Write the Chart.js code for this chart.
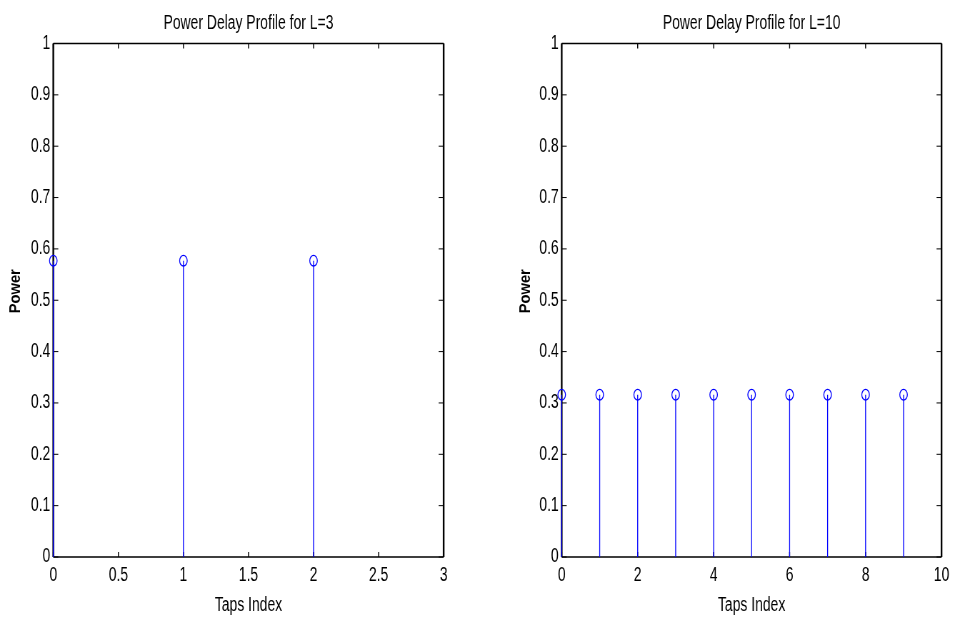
<!DOCTYPE html>
<html>
<head>
<meta charset="utf-8">
<script src="https://cdn.jsdelivr.net/npm/chart.js@4.4.1/dist/chart.umd.min.js"></script>
<style>
  html, body { margin: 0; padding: 0; background: #fff; }
  body { width: 954px; height: 621px; position: relative; overflow: hidden; }
  /* the picture is squeezed sideways: draw wide, then scale x down */
  .plot { position: absolute; top: 0; height: 621px; transform-origin: 0 0; transform: scaleX(0.7142857); }
</style>
</head>
<body>
<div class="plot" style="left:0;width:668px"><canvas id="pdpL3"></canvas></div>
<div class="plot" style="left:510px;width:622px"><canvas id="pdpL10"></canvas></div>
<script>
// Taps and powers
const tapsL3 = [0, 1, 2];
const powerL3 = [0.577, 0.577, 0.577];
const tapsL10 = [0, 1, 2, 3, 4, 5, 6, 7, 8, 9];
const powerL10 = [0.316, 0.316, 0.316, 0.316, 0.316, 0.316, 0.316, 0.316, 0.316, 0.316];

const titleL3 = 'Power Delay Profile for L=3';
const titleL10 = 'Power Delay Profile for L=10';
const xLabel = 'Taps Index';
const yLabel = 'Power';

const K = 1.4; // horizontal squeeze factor
const textFont = { family: "'Liberation Sans', Arial, sans-serif", size: 19.5 };

Chart.defaults.color = '#000';

// box round the axes with inward ticks on all four sides
const boxTicks = {
    id: 'boxTicks',
    beforeDatasetsDraw(chart) {
        const { ctx, chartArea: a, scales: { x, y } } = chart;
        ctx.save();
        ctx.strokeStyle = '#000';
        ctx.beginPath();
        ctx.lineWidth = 1.4;
        x.ticks.forEach(t => {
            const px = x.getPixelForValue(t.value);
            ctx.moveTo(px, a.bottom); ctx.lineTo(px, a.bottom - 5);
            ctx.moveTo(px, a.top); ctx.lineTo(px, a.top + 5);
        });
        ctx.stroke();
        ctx.beginPath();
        ctx.lineWidth = 1;
        y.ticks.forEach(t => {
            const py = y.getPixelForValue(t.value);
            ctx.moveTo(a.left, py); ctx.lineTo(a.left + 5 * K, py);
            ctx.moveTo(a.right, py); ctx.lineTo(a.right - 5 * K, py);
        });
        ctx.stroke();
        ctx.lineWidth = 1.6;
        ctx.beginPath();
        ctx.moveTo(a.left, a.top); ctx.lineTo(a.right, a.top);
        ctx.moveTo(a.left, a.bottom); ctx.lineTo(a.right, a.bottom);
        ctx.stroke();
        ctx.lineWidth = 2.4;
        ctx.beginPath();
        ctx.moveTo(a.left, a.top); ctx.lineTo(a.left, a.bottom);
        ctx.moveTo(a.right, a.top); ctx.lineTo(a.right, a.bottom);
        ctx.stroke();
        ctx.restore();
    }
};

// y label: rotated text is not squeezed the same way, so stretch it back
const yTitle = {
    id: 'yTitle',
    afterDraw(chart) {
        const { ctx, scales: { y } } = chart;
        ctx.save();
        ctx.translate(y.left + 15.5 * K, (y.top + y.bottom) / 2 - 9);
        ctx.rotate(-Math.PI / 2);
        ctx.scale(1, 1.45);
        ctx.font = "bold 14.7px 'Liberation Sans', Arial, sans-serif";
        ctx.fillStyle = '#000';
        ctx.textAlign = 'center';
        ctx.textBaseline = 'middle';
        ctx.fillText(yLabel, 0, 0);
        ctx.restore();
    }
};

function stemPoints(taps, power) {
    const pts = [];
    taps.forEach((t, i) => {
        pts.push({ x: t, y: 0 }, { x: t, y: power[i] }, { x: t, y: null });
    });
    return pts;
}

function tickText(v) {
    return String(+Number(v).toFixed(2));
}

function createStemChart(ctx, taps, power, chartTitle, xMax, xStep, yAxisWidth, padRight) {
    return new Chart(ctx, {
        type: 'scatter',
        data: {
            datasets: [{
                data: stemPoints(taps, power),
                showLine: true,
                spanGaps: false,
                borderColor: '#0000ff',
                borderWidth: 1.3,
                pointRadius: 0,
                clip: false
            }, {
                data: taps.map((t, i) => ({ x: t, y: power[i] })),
                showLine: false,
                pointStyle: 'circle',
                pointRadius: 5.3,
                borderColor: '#0000ff',
                borderWidth: 1.3,
                backgroundColor: 'rgba(0,0,0,0)',
                clip: false
            }]
        },
        options: {
            responsive: true,
            maintainAspectRatio: false,
            animation: false,
            events: [],
            layout: { padding: { left: 0, right: padRight * K, top: 0, bottom: 0 } },
            plugins: {
                legend: { display: false },
                tooltip: { enabled: false },
                title: {
                    display: true,
                    text: chartTitle,
                    fullSize: false,
                    color: '#000',
                    font: { family: textFont.family, size: textFont.size, weight: 'normal' },
                    padding: { top: 11.5, bottom: 43.5 - 11.5 - textFont.size * 1.2 }
                }
            },
            scales: {
                x: {
                    type: 'linear',
                    min: 0,
                    max: xMax,
                    grid: { display: false, drawTicks: false },
                    border: { display: false },
                    afterFit: s => { s.height = 64; },
                    ticks: {
                        stepSize: xStep,
                        padding: 7,
                        maxRotation: 0,
                        autoSkip: false,
                        color: '#000',
                        font: textFont,
                        callback: tickText
                    },
                    title: {
                        display: true,
                        text: xLabel,
                        color: '#000',
                        font: textFont,
                        padding: { top: 0, bottom: 4 }
                    }
                },
                y: {
                    type: 'linear',
                    min: 0,
                    max: 1,
                    grid: { display: false, drawTicks: false },
                    border: { display: false },
                    afterFit: s => { s.width = yAxisWidth * K; },
                    ticks: {
                        stepSize: 0.1,
                        padding: 3 * K,
                        autoSkip: false,
                        color: '#000',
                        font: textFont,
                        callback: tickText
                    },
                    title: { display: false, text: yLabel }
                }
            }
        },
        plugins: [boxTicks, yTitle]
    });
}

createStemChart(document.getElementById('pdpL3'), tapsL3, powerL3, titleL3, 3, 0.5, 53.3, 33.5);
createStemChart(document.getElementById('pdpL10'), tapsL10, powerL10, titleL10, 10, 2, 51.7, 11.3);
</script>
</body>
</html>
